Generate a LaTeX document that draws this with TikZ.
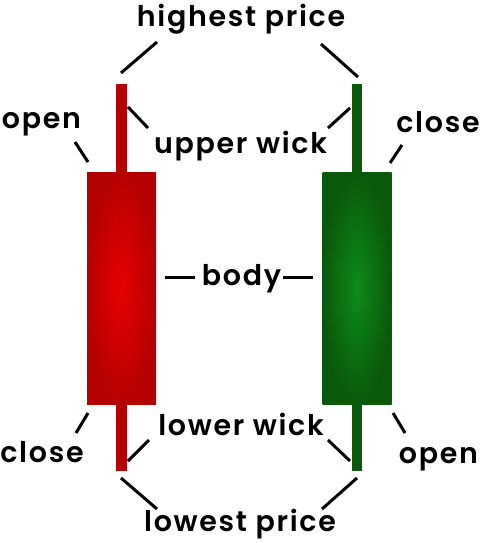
\documentclass[tikz,border=0pt]{standalone}
\usepackage{fontspec}
\setmainfont{Poppins SemiBold}[LetterSpace=6]
\definecolor{redwick}{RGB}{180,0,0}
\definecolor{redin}{RGB}{232,0,0}
\definecolor{greenwick}{RGB}{10,88,10}
\definecolor{greenin}{RGB}{12,140,28}
\begin{document}
\begin{tikzpicture}[x=1pt,y=-1pt,
  lab/.style={font=\fontsize{28.5}{34}\selectfont, anchor=base, inner sep=0pt},
  lead/.style={line width=3pt, black},
  wick/.style={rectangle, inner sep=0pt, minimum width=10.5pt, minimum height=387pt},
  candle/.style={rectangle, inner sep=0pt, minimum width=69pt, minimum height=232pt}]
\useasboundingbox (0,0) rectangle (480,543);
\fill[white] (0,0) rectangle (480,543);
% candles
\node[wick, fill=redwick] (rw) at (121.5,277.5) {};
\node[candle, inner color=redin, outer color=redwick] (rb) at (121.5,288) {};
\node[wick, fill=greenwick] (gw) at (357,277.5) {};
\node[candle, inner color=greenin, outer color=greenwick] (gb) at (357,288) {};
% labels
\node[lab] (hp) at (241,27) {highest price};
\node[lab] (ol) at (41.5,128) {open};
\node[lab] (uw) at (240.5,153) {upper wick};
\node[lab] (cr) at (438,132) {close};
\node[lab] (bd) at (241.5,285) {body};
\node[lab] (cl) at (42,462) {close};
\node[lab] (lw) at (241,435) {lower wick};
\node[lab] (or) at (438.5,463) {open};
\node[lab] (lp) at (240,531) {lowest price};
% leader end points
\coordinate (hpL1) at (157,42); \coordinate (hpL2) at (121,73);
\coordinate (hpR1) at (321,44); \coordinate (hpR2) at (358,77);
\coordinate (olA) at (75,142); \coordinate (olB) at (88,162);
\coordinate (uwL1) at (148,128); \coordinate (uwL2) at (128,107);
\coordinate (uwR1) at (328,128); \coordinate (uwR2) at (350,108);
\coordinate (crA) at (402,145); \coordinate (crB) at (390,163);
\coordinate (bdL1) at (195,277); \coordinate (bdL2) at (165,277);
\coordinate (bdR1) at (283,277); \coordinate (bdR2) at (313,277);
\coordinate (clA) at (76,433); \coordinate (clB) at (88,413);
\coordinate (lwL1) at (149,440); \coordinate (lwL2) at (128,461);
\coordinate (lwR1) at (328,440); \coordinate (lwR2) at (350,461);
\coordinate (orA) at (405,433); \coordinate (orB) at (393,413);
\coordinate (lpL1) at (157,509); \coordinate (lpL2) at (121,478);
\coordinate (lpR1) at (322,509); \coordinate (lpR2) at (357,478);
% leaders
\draw[lead] (hpL1) -- (hpL2);
\draw[lead] (hpR1) -- (hpR2);
\draw[lead] (olA) -- (olB);
\draw[lead] (uwL1) -- (uwL2);
\draw[lead] (uwR1) -- (uwR2);
\draw[lead] (crA) -- (crB);
\draw[lead] (bdL1) -- (bdL2);
\draw[lead] (bdR1) -- (bdR2);
\draw[lead] (clA) -- (clB);
\draw[lead] (lwL1) -- (lwL2);
\draw[lead] (lwR1) -- (lwR2);
\draw[lead] (orA) -- (orB);
\draw[lead] (lpL1) -- (lpL2);
\draw[lead] (lpR1) -- (lpR2);
\end{tikzpicture}
\end{document}
